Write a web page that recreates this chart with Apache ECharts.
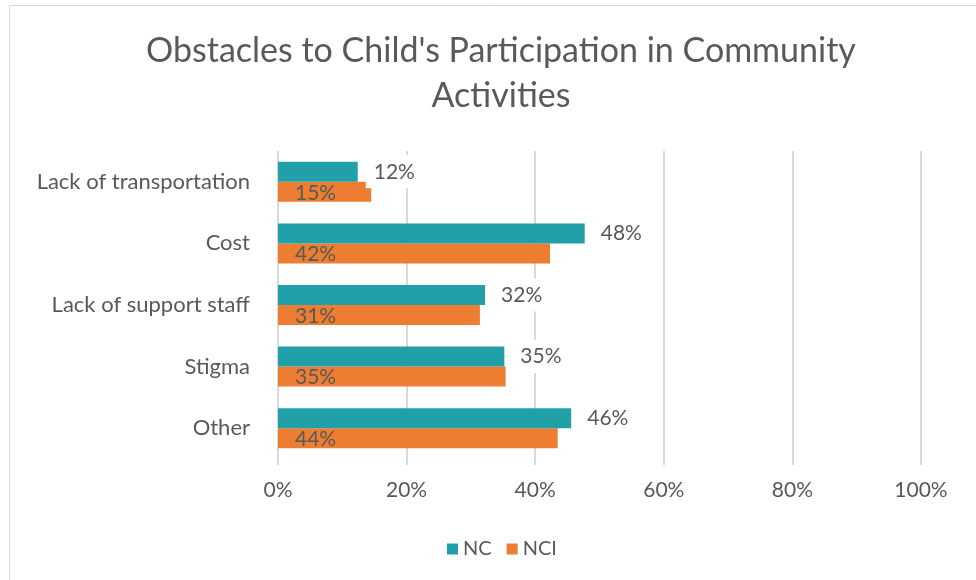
<!DOCTYPE html>
<html><head><meta charset="utf-8">
<script src="https://cdn.jsdelivr.net/npm/echarts@6/dist/echarts.min.js"></script>
<style>html,body{margin:0;padding:0;background:#fff}#c{width:976px;height:580px}</style>
</head><body><div id="c"></div>
<script>
var categories = ['Lack of transportation', 'Cost', 'Lack of support staff', 'Stigma', 'Other'];
var ncValues = [12.4, 47.7, 32.2, 35.2, 45.6];
var nciValues = [14.5, 42.3, 31.4, 35.4, 43.5];
var xTicks = [0, 20, 40, 60, 80, 100];

var FONT = 'Lato';
var TXT = '#595959';
var chart = echarts.init(document.getElementById('c'), null, {renderer: 'canvas'});
chart.setOption({
  animation: false,
  backgroundColor: '#fff',
  graphic: [{type: 'rect', shape: {x: 9.5, y: 5.5, width: 1000, height: 620}, style: {fill: 'none', stroke: '#d9d9d9', lineWidth: 1}, silent: true, z: -1}],
  title: {
    text: "Obstacles to Child's Participation in Community\nActivities",
    left: 496, top: 24, textAlign: 'center',
    textStyle: {fontFamily: FONT, fontSize: 34, fontWeight: 'normal', color: TXT, lineHeight: 45}
  },
  legend: {
    data: ['NC', 'NCI'], left: 442, top: 534,
    itemWidth: 11, itemHeight: 11, itemGap: 15, icon: 'rect',
    textStyle: {fontFamily: FONT, fontSize: 20, color: TXT}
  },
  grid: {left: 278, right: 55, top: 151, bottom: 121, containLabel: false},
  xAxis: {
    type: 'value', min: 0, max: 100, interval: 20,
    axisLine: {show: false},
    axisTick: {show: true, length: 6, lineStyle: {color: '#d9d9d9', width: 2}},
    splitLine: {show: true, lineStyle: {color: '#d9d9d9', width: 2}},
    axisLabel: {margin: 21, fontFamily: FONT, fontSize: 21, color: TXT,
      formatter: function (v) { return xTicks.indexOf(v) >= 0 ? v + '%' : ''; }}
  },
  yAxis: {
    type: 'category', data: categories, inverse: true,
    axisLine: {show: false}, axisTick: {show: false},
    axisLabel: {margin: 28, fontFamily: FONT, fontSize: 22, color: TXT}
  },
  series: [
    {
      name: 'NC', type: 'bar', data: ncValues, barWidth: 20, barGap: '0%',
      itemStyle: {color: '#21A0A7'},
      label: {show: true, position: 'right', distance: 8, fontFamily: FONT, fontSize: 21, color: TXT,
        backgroundColor: '#fff', padding: [6, 8], offset: [0, 0],
        formatter: function (p) { return Math.round(p.value) + '%'; }},
      z: 3
    },
    {
      name: 'NCI', type: 'bar', data: nciValues, barWidth: 20,
      itemStyle: {color: '#ED7D31'},
      label: {show: true, position: 'insideLeft', distance: 17, fontFamily: FONT, fontSize: 21, color: TXT,
        offset: [0, 1],
        formatter: function (p) { return Math.round(p.value) + '%'; }},
      z: 2
    }
  ]
});
</script></body></html>
